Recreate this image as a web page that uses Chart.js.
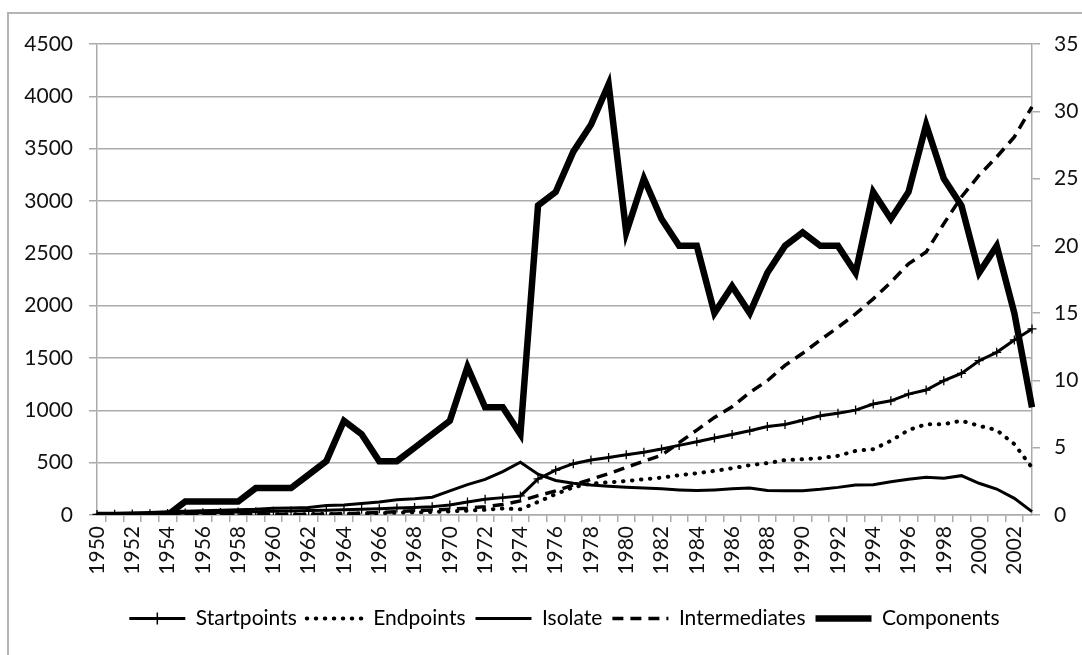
<!DOCTYPE html>
<html>
<head>
<meta charset="utf-8">
<script src="https://cdn.jsdelivr.net/npm/chart.js@4.4.1/dist/chart.umd.min.js"></script>
<style>
  html, body { margin: 0; padding: 0; background: #fff; }
  #frame { position: absolute; left: 7px; top: 12px; width: 1120px; height: 700px; border: 2px solid #b4b4b4; }
  #wrap { position: absolute; left: 0; top: 0; width: 1082px; height: 655px; }
</style>
</head>
<body>
<div id="frame"></div>
<div id="wrap"><canvas id="networkChart" width="1082" height="655"></canvas></div>
<script>
// years on the category axis
const years = [];
for (let y = 1950; y <= 2003; y++) years.push(String(y));

// left axis series (counts)
const startpoints = [5, 8, 10, 12, 15, 18, 22, 25, 28, 32, 35, 38, 42, 46, 50, 55, 60, 66, 72, 80,
  96, 124, 150, 166, 182, 345, 428, 490, 525, 549, 575, 600, 630, 665, 700, 735, 770, 805, 845, 865,
  906, 948, 973, 1002, 1060, 1091, 1155, 1194, 1283, 1353, 1474, 1554, 1672, 1778];
const endpoints = [0, 0, 0, 0, 0, 0, 2, 3, 4, 5, 6, 7, 8, 10, 12, 15, 18, 22, 26, 30,
  35, 42, 50, 62, 55, 125, 200, 265, 300, 312, 325, 341, 357, 380, 399, 421, 447, 476, 495, 525,
  533, 543, 565, 613, 629, 709, 811, 868, 868, 900, 852, 811, 677, 453];
const isolate = [10, 15, 20, 25, 30, 35, 40, 45, 50, 55, 65, 68, 72, 90, 95, 110, 125, 145, 155, 170,
  230, 290, 340, 415, 505, 390, 330, 303, 287, 275, 265, 258, 250, 240, 233, 240, 250, 258, 234, 232,
  232, 245, 264, 287, 290, 318, 341, 360, 352, 376, 303, 248, 159, 32];
const intermediates = [0, 0, 0, 0, 0, 0, 0, 0, 2, 3, 4, 5, 6, 8, 12, 18, 25, 32, 40, 48,
  55, 65, 80, 100, 135, 185, 230, 287, 341, 395, 455, 515, 571, 692, 811, 932, 1034, 1171, 1283, 1430,
  1545, 1672, 1793, 1921, 2065, 2224, 2400, 2512, 2783, 3038, 3246, 3421, 3612, 3900];

// right axis series
const components = [0, 0, 0, 0, 0, 1, 1, 1, 1, 2, 2, 2, 3, 4, 7, 6, 4, 4, 5, 6,
  7, 11, 8, 8, 6, 23, 24, 27, 29, 32, 21, 25, 22, 20, 20, 15, 17, 15, 18, 20,
  21, 20, 20, 18, 24, 22, 24, 29, 25, 23, 18, 20, 15, 8];

const leftTicks = [0, 500, 1000, 1500, 2000, 2500, 3000, 3500, 4000, 4500];
const rightTicks = [0, 5, 10, 15, 20, 25, 30, 35];

const FONT = 'Lato';
const FSIZE = 21;
const GRID = '#ababab';
const SAMPLE_W = 56;

// draws the little cross on the Startpoints legend sample
const legendCross = {
  id: 'legendCross',
  afterDraw(chart) {
    const boxes = chart.legend && chart.legend.legendHitBoxes;
    if (!boxes || !boxes.length) return;
    const b = boxes[0];
    const cx = b.left + SAMPLE_W / 2, cy = b.top + b.height / 2;
    const c = chart.ctx;
    c.save();
    c.strokeStyle = '#000';
    c.lineWidth = 1.5;
    c.beginPath();
    c.moveTo(cx, cy - 6); c.lineTo(cx, cy + 6);
    c.stroke();
    c.restore();
  }
};

const ctx = document.getElementById('networkChart').getContext('2d');
const networkChart = new Chart(ctx, {
  type: 'line',
  data: {
    labels: years,
    datasets: [
      {
        label: 'Startpoints',
        data: startpoints,
        yAxisID: 'y',
        borderColor: '#000',
        backgroundColor: '#000',
        borderWidth: 3,
        pointStyle: 'cross',
        pointRadius: 4.5,
        pointBorderWidth: 1.3
      },
      {
        label: 'Endpoints',
        data: endpoints,
        yAxisID: 'y',
        borderColor: '#000',
        backgroundColor: '#000',
        borderWidth: 4,
        borderDash: [0.5, 8.5],
        borderCapStyle: 'round',
        pointRadius: 0
      },
      {
        label: 'Isolate',
        data: isolate,
        yAxisID: 'y',
        borderColor: '#000',
        backgroundColor: '#000',
        borderWidth: 3,
        pointRadius: 0
      },
      {
        label: 'Intermediates',
        data: intermediates,
        yAxisID: 'y',
        borderColor: '#000',
        backgroundColor: '#000',
        borderWidth: 3.5,
        borderDash: [11, 7],
        pointRadius: 0
      },
      {
        label: 'Components',
        data: components,
        yAxisID: 'y1',
        borderColor: '#000',
        backgroundColor: '#000',
        borderWidth: 6.5,
        pointRadius: 0
      }
    ]
  },
  options: {
    responsive: false,
    animation: false,
    elements: { line: { tension: 0 } },
    layout: { padding: { top: 44, left: 0, right: 0, bottom: 16 } },
    plugins: {
      tooltip: { enabled: false },
      legend: {
        position: 'bottom',
        fullSize: false,
        labels: {
          usePointStyle: true,
          pointStyleWidth: SAMPLE_W,
          padding: 10,
          color: '#000',
          font: { family: FONT, size: FSIZE },
          generateLabels: (chart) => chart.data.datasets.map((ds, i) => ({
            text: ds.label,
            fillStyle: 'rgba(0,0,0,0)',
            strokeStyle: '#000',
            fontColor: '#000',
            lineWidth: ds.borderWidth,
            lineDash: ds.borderDash || [],
            lineCap: ds.borderCapStyle || 'butt',
            pointStyle: 'line',
            hidden: false,
            datasetIndex: i
          }))
        }
      }
    },
    scales: {
      x: {
        grid: { drawOnChartArea: false, offset: true, tickLength: 7, color: GRID, lineWidth: 1.5 },
        border: { color: GRID, width: 1.5 },
        ticks: {
          autoSkip: false,
          maxRotation: 90,
          minRotation: 90,
          padding: 4,
          color: '#111',
          font: { family: FONT, size: FSIZE },
          callback: (v, i) => (i % 2 === 0 ? years[i] : '')
        },
        afterFit: (s) => { s.height = 83; }
      },
      y: {
        position: 'left',
        min: 0,
        max: 4500,
        afterBuildTicks: (s) => { s.ticks = leftTicks.map(v => ({ value: v })); },
        grid: { color: GRID, lineWidth: 1.5, tickLength: 8 },
        border: { color: GRID, width: 1.5 },
        ticks: { padding: 16, color: '#111', font: { family: FONT, size: FSIZE }, callback: (v) => String(v) },
        afterFit: (s) => { s.width = 97; }
      },
      y1: {
        position: 'right',
        min: 0,
        max: 35,
        afterBuildTicks: (s) => { s.ticks = rightTicks.map(v => ({ value: v })); },
        grid: { drawOnChartArea: false, color: GRID, lineWidth: 1.5, tickLength: 8 },
        border: { color: GRID, width: 1.5 },
        ticks: { padding: 14, color: '#111', font: { family: FONT, size: FSIZE }, callback: (v) => String(v) },
        afterFit: (s) => { s.width = 50; }
      }
    }
  },
  plugins: [legendCross]
});
</script>
</body>
</html>
